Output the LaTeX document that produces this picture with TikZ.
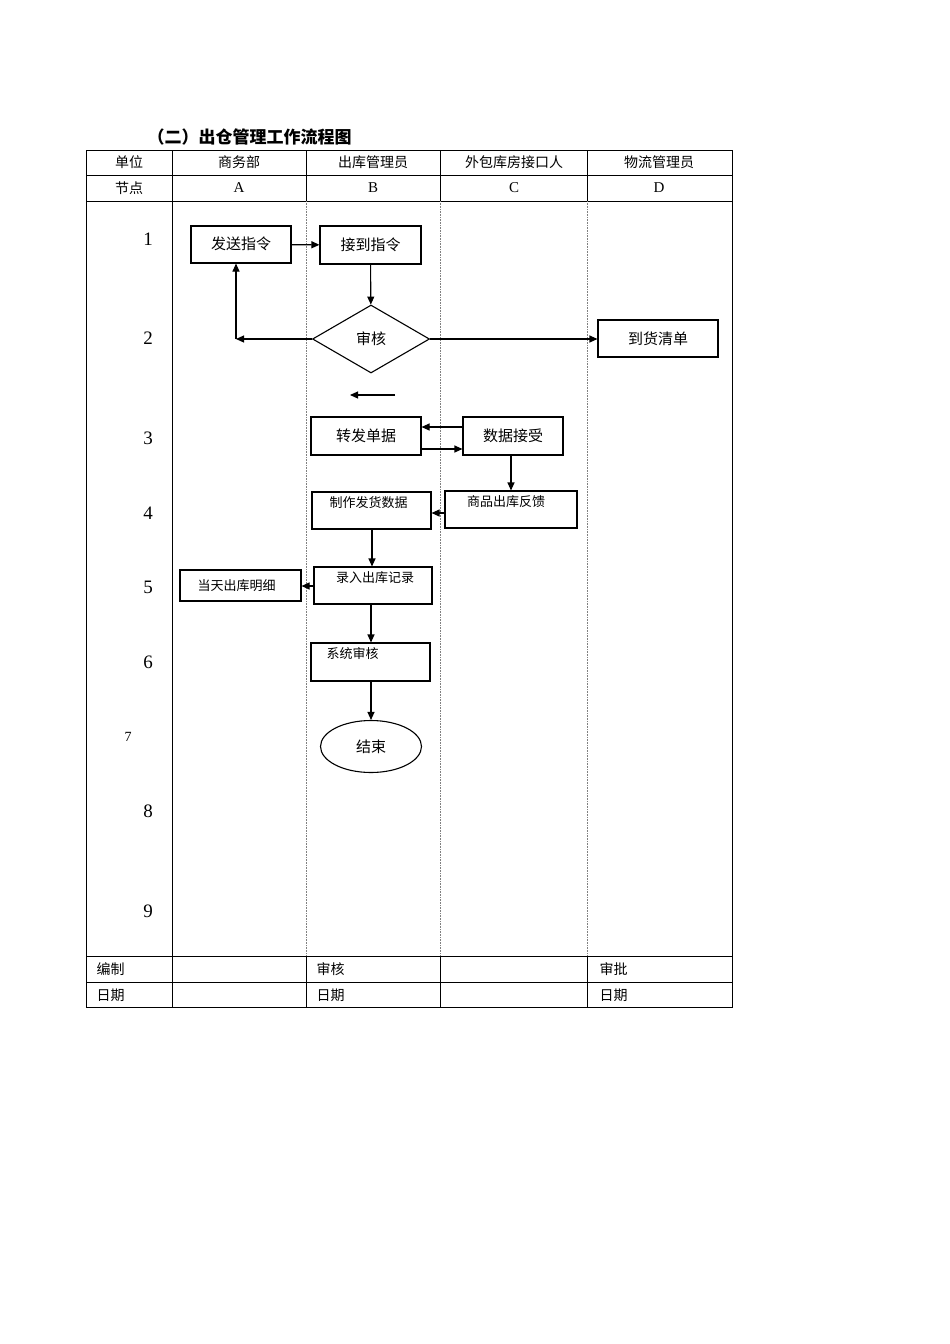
\documentclass[tikz,border=0pt]{standalone}
\usepackage{fontspec}
\setmainfont{Liberation Serif}
\newfontfamily\cjk{Noto Sans CJK SC}
\usetikzlibrary{shapes.geometric,arrows.meta}
\begin{document}
\begin{tikzpicture}[x=1pt,y=-1pt,
  box/.style={draw,line width=1.1pt,inner sep=0pt,font=\cjk\fontsize{15}{15}\selectfont},
  sbox/.style={box,font=\cjk\fontsize{13}{13}\selectfont},
  arr/.style={-{Triangle[length=8pt,width=7pt]},line width=1.1pt},
  grid/.style={line width=0.8pt},
  dot/.style={densely dotted,line width=0.6pt,gray},
  hd/.style={font=\cjk\fontsize{14}{14}\selectfont},
  let/.style={font=\fontsize{15}{15}\selectfont},
  num/.style={font=\fontsize{19}{19}\selectfont}]
\useasboundingbox (0,0) rectangle (950,1344);
\node[anchor=west,font=\cjk\bfseries\fontsize{17}{17}\selectfont] (title) at (144,137) {（二）出仓管理工作流程图};
% grid
\draw[grid] (86,150) rectangle (732,1007);
\foreach \y in {175,201,956,982} \draw[grid] (86,\y) -- (732,\y);
\draw[grid] (172,150) -- (172,1007);
\foreach \x in {306,440,587} {\draw[grid] (\x,150) -- (\x,201); \draw[dot] (\x,201) -- (\x,956); \draw[grid] (\x,956) -- (\x,1007);}
% header
\node[hd] (h0) at (129,162) {单位};
\node[hd] (h1) at (239,162) {商务部};
\node[hd] (h2) at (373,162) {出库管理员};
\node[hd] (h3) at (514,162) {外包库房接口人};
\node[hd] (h4) at (659,162) {物流管理员};
\node[hd] (n0) at (129,188) {节点};
\node[let] (nA) at (239,188) {A};
\node[let] (nB) at (373,188) {B};
\node[let] (nC) at (514,188) {C};
\node[let] (nD) at (659,188) {D};
\foreach \t/\y [count=\i] in {1/239,2/338,3/438,4/513,5/587,6/662} \node[num] (r\i) at (148,\y) {\t};
\node[font=\fontsize{14}{14}\selectfont] (r7) at (128,737) {7};
\node[num] (r8) at (148,811) {8};
\node[num] (r9) at (148,911) {9};
% footer
\node[hd,anchor=west] (f1) at (93,969) {编制};
\node[hd,anchor=west] (f2) at (313,969) {审核};
\node[hd,anchor=west] (f3) at (596,969) {审批};
\node[hd,anchor=west] (f4) at (93,995) {日期};
\node[hd,anchor=west] (f5) at (313,995) {日期};
\node[hd,anchor=west] (f6) at (596,995) {日期};
% flow nodes
\node[box,minimum width=100,minimum height=37] (send) at (241,244.5) {\raisebox{2pt}{发送指令}};
\node[box,minimum width=101,minimum height=38] (recv) at (370.5,245) {\raisebox{2pt}{接到指令}};
\node[draw,diamond,line width=1.1pt,minimum width=117,minimum height=68,inner sep=0pt,aspect=1.7,font=\cjk\fontsize{15}{15}\selectfont] (audit) at (371,339) {审核};
\node[box,minimum width=120,minimum height=37] (list) at (658,338.5) {到货清单};
\node[box,minimum width=110,minimum height=38] (fwd) at (366,436) {\raisebox{2pt}{转发单据}};
\node[box,minimum width=100,minimum height=38] (data) at (513,436) {\raisebox{2pt}{数据接受}};
\node[sbox,minimum width=132,minimum height=37,text height=11pt,text depth=17pt] (fb) at (511,509.5) {\hspace*{-10pt}商品出库反馈};
\node[sbox,minimum width=119,minimum height=37,text height=11pt,text depth=17pt] (make) at (371.5,510.5) {\hspace*{-6pt}制作发货数据};
\node[sbox,minimum width=118,minimum height=37,text height=11pt,text depth=17pt] (rec) at (373,585.5) {\hspace*{4pt}录入出库记录};
\node[sbox,minimum width=121,minimum height=31] (day) at (240.5,585.5) {\hspace*{-8pt}当天出库明细};
\node[sbox,minimum width=119,minimum height=38,text height=11pt,text depth=18pt,text width=104pt,align=left] (sys) at (370.5,662) {\hspace*{8pt}系统审核};
\node[draw,ellipse,line width=1.1pt,minimum width=101,minimum height=52,inner sep=0pt,font=\cjk\fontsize{15}{15}\selectfont] (end) at (371,746.5) {结束};
% connectors
\coordinate (c1) at (236,339);
\coordinate (fa) at (395,395);
\coordinate (fb2) at (350,395);
\draw[arr] (send) -- (recv);
\draw[arr] (recv) -- (audit);
\draw[arr] (audit.west) -- (c1);
\draw[arr] (c1) -- (send.south -| c1);
\draw[arr] (audit.east) -- (list.west |- audit.east);
\draw[arr] (fa) -- (fb2);
\draw[arr] (data.west |- 0,427) -- (fwd.east |- 0,427);
\draw[arr] (fwd.east |- 0,449) -- (data.west |- 0,449);
\draw[arr] (data.south -| 511,0) -- (fb.north);
\draw[arr] (fb.west |- 0,513) -- (make.east |- 0,513);
\draw[arr] (make.south -| 372,0) -- (rec.north -| 372,0);
\draw[arr] (rec.west |- 0,586) -- (day.east |- 0,586);
\draw[arr] (rec.south -| 371,0) -- (sys.north -| 371,0);
\draw[arr] (sys.south -| 371,0) -- (end.north);
\end{tikzpicture}
\end{document}
